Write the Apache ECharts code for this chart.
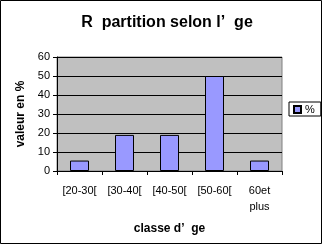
<!DOCTYPE html>
<html><head><meta charset="utf-8">
<script src="https://cdn.jsdelivr.net/npm/echarts@6/dist/echarts.min.js"></script>
<style>html,body{margin:0;padding:0;background:#fff}#c{width:324px;height:246px}</style>
</head><body><div id="c"></div>
<script>
const categories = ['[20-30[', '[30-40[', '[40-50[', '[50-60[', '60et\nplus'];
const values = [5.5, 19, 19, 50, 5.5];
const yTicks = [0, 10, 20, 30, 40, 50, 60];
const seriesName = '%';
const titleText = 'R  partition selon l\u2019  ge';
const xName = 'classe d\u2019  ge';
const yName = 'valeur en %';

const F = 'Liberation Sans, Arial, sans-serif';
const chart = echarts.init(document.getElementById('c'), null, {renderer: 'canvas'});
chart.setOption({
  animation: false,
  backgroundColor: '#fff',
  textStyle: {fontFamily: F},
  title: {text: titleText, left: 162, textAlign: 'center', top: 10,
    textStyle: {fontFamily: F, fontSize: 16, fontWeight: 'bold', color: '#000'}},
  graphic: [{type: 'rect', shape: {x: 0.5, y: 0.5, width: 321, height: 243},
    style: {fill: 'none', stroke: '#000', lineWidth: 1}, silent: true}],
  legend: {data: [seriesName], left: 289, top: 102, orient: 'vertical',
    borderColor: '#000', borderWidth: 1, padding: [2, 6, 1, 4], itemWidth: 7, itemHeight: 7, itemGap: 0,
    icon: 'rect',
    textStyle: {fontFamily: F, fontSize: 11, color: '#000', padding: [0, 0, 0, -1]}},
  grid: {left: 57, right: 42, top: 57, bottom: 75, show: true, backgroundColor: '#c0c0c0',
    borderColor: '#808080', borderWidth: 1},
  xAxis: {type: 'category', data: categories, name: xName, nameLocation: 'middle', nameGap: 52,
    nameTextStyle: {fontFamily: F, fontSize: 12, fontWeight: 'bold', color: '#000'},
    axisLine: {lineStyle: {color: '#000'}},
    axisTick: {show: true, length: 4, lineStyle: {color: '#000'}},
    axisLabel: {fontFamily: F, fontSize: 11, color: '#000', margin: 12, interval: 0, lineHeight: 16}},
  yAxis: {type: 'value', min: yTicks[0], max: yTicks[yTicks.length - 1], interval: 10,
    name: yName, nameLocation: 'middle', nameGap: 30,
    nameTextStyle: {fontFamily: F, fontSize: 12, fontWeight: 'bold', color: '#000'},
    axisLine: {show: true, lineStyle: {color: '#000'}},
    axisTick: {show: true, length: 4, lineStyle: {color: '#000'}},
    axisLabel: {fontFamily: F, fontSize: 11, color: '#000', margin: 7},
    splitLine: {show: true, lineStyle: {color: '#000', width: 1}}},
  series: [{name: seriesName, type: 'bar', data: values, barWidth: 19,
    itemStyle: {color: '#9999ff', borderColor: '#000', borderWidth: 1}}]
});
</script></body></html>
